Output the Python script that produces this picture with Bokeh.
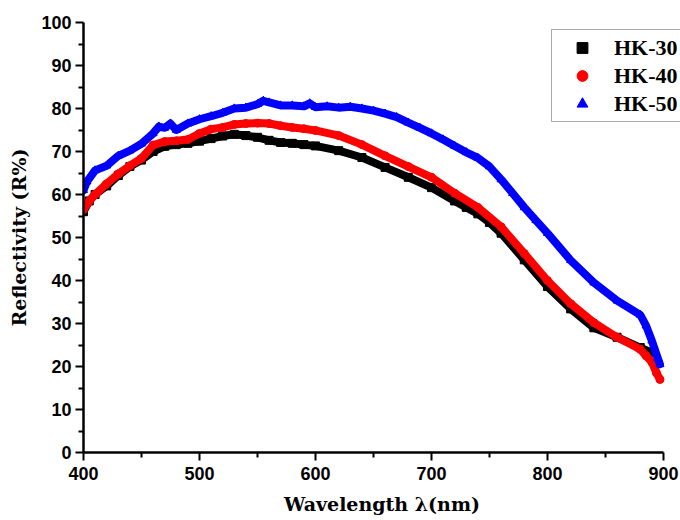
from bokeh.plotting import figure
from bokeh.models import Range1d, FixedTicker, Legend, LegendItem
from bokeh.embed import file_html
from bokeh.resources import INLINE

# ---- data ----
wl_30 = [400, 405, 410, 420, 430, 440, 450, 460, 470, 480, 490, 500, 510, 520, 530, 540, 550, 560,
         570, 580, 590, 600, 620, 640, 660, 680, 700, 720, 730, 740, 750, 760, 780, 800, 820, 840,
         860, 880, 890]
r_30 = [56.0, 58.5, 60.0, 62.0, 64.4, 66.5, 68.0, 70.0, 71.2, 71.6, 71.9, 72.4, 73.0, 73.6, 74.0, 73.7,
        73.3, 72.6, 72.1, 71.9, 71.6, 71.3, 70.2, 68.6, 66.3, 64.0, 61.6, 58.5, 57.0, 55.5, 53.5, 51.0,
        44.8, 38.6, 33.4, 29.0, 26.8, 24.4, 23.2]

wl_40 = [400, 405, 410, 420, 430, 440, 450, 460, 470, 480, 490, 500, 510, 520, 530, 540, 550, 560,
         570, 580, 590, 600, 620, 640, 660, 680, 700, 720, 740, 760, 780, 800, 820, 840, 860, 880,
         885, 890, 894, 897]
r_40 = [56.5, 58.5, 60.0, 62.5, 64.8, 66.7, 68.4, 71.5, 72.3, 72.5, 72.8, 74.2, 75.2, 75.6, 76.3, 76.5,
        76.6, 76.5, 76.0, 75.6, 75.3, 74.9, 73.7, 71.6, 69.0, 66.5, 64.0, 60.3, 57.0, 52.5, 46.3, 40.0,
        34.6, 30.2, 26.8, 24.0, 22.5, 21.0, 18.5, 17.0]

wl_50 = [400, 403, 410, 420, 430, 440, 450, 460, 465, 470, 475, 480, 490, 500, 510, 520, 530, 540,
         550, 555, 560, 570, 580, 590, 595, 600, 610, 620, 630, 640, 650, 660, 670, 680, 690, 700,
         710, 720, 730, 740, 750, 760, 770, 780, 790, 800, 820, 840, 860, 880, 885, 890, 895, 897]
r_50 = [61.0, 63.0, 65.6, 66.7, 69.0, 70.2, 71.8, 74.2, 75.8, 75.5, 76.5, 75.0, 76.5, 77.5, 78.2, 79.0,
        80.0, 80.2, 81.0, 81.8, 81.4, 80.7, 80.7, 80.5, 81.2, 80.3, 80.5, 80.2, 80.4, 80.0, 79.5, 78.8,
        78.0, 76.7, 75.5, 74.2, 72.8, 71.3, 69.8, 68.5, 66.5, 63.5, 60.3, 57.0, 54.0, 51.0, 44.7, 39.5,
        35.3, 32.0, 29.5, 26.0, 22.0, 20.5]

labels = ["HK-30", "HK-40", "HK-50"]
x_major = [400, 500, 600, 700, 800, 900]
x_minor = [450, 550, 650, 750, 850]
y_major = [0, 10, 20, 30, 40, 50, 60, 70, 80, 90, 100]
y_minor = [5, 15, 25, 35, 45, 55, 65, 75, 85, 95]

p = figure(width=680, height=520, x_range=Range1d(400, 914.7), y_range=Range1d(0, 100),
           output_backend="svg", toolbar_location=None,
           min_border_left=83, min_border_right=0, min_border_top=22, min_border_bottom=68)
p.outline_line_color = None
p.xgrid.grid_line_color = None
p.ygrid.grid_line_color = None
p.background_fill_color = "white"

series = [(wl_30, r_30, "black", "square"), (wl_40, r_40, "red", "circle"), (wl_50, r_50, "blue", "triangle")]
items = []
for (xs, ys, col, mk), lab in zip(series, labels):
    p.line(xs, ys, line_color=col, line_width=8, line_join="round", line_cap="round")
    r = p.scatter(xs, ys, marker=mk, size=8, fill_color=col, line_color=col)
    items.append(LegendItem(label=lab, renderers=[r]))

legend = Legend(items=items, location=(468, 330), padding=4, spacing=1, margin=0,
                glyph_width=52, glyph_height=27, label_height=27, label_standoff=6,
                label_text_font="Liberation Serif", label_text_font_style="bold",
                label_text_font_size="22px", label_text_color="black",
                border_line_color="#555555", border_line_width=1, background_fill_alpha=1.0)
p.add_layout(legend)

xa = p.xaxis[0]
ya = p.yaxis[0]
xa.ticker = FixedTicker(ticks=x_major, minor_ticks=x_minor)
ya.ticker = FixedTicker(ticks=y_major, minor_ticks=y_minor)
xa.bounds = (400, 900)
for ax in (xa, ya):
    ax.axis_line_width = 2.5
    ax.axis_line_color = "black"
    ax.major_tick_line_width = 2
    ax.minor_tick_line_width = 2
    ax.major_tick_line_color = "black"
    ax.minor_tick_line_color = "black"
    ax.major_tick_in = 0
    ax.major_tick_out = 8
    ax.minor_tick_in = 0
    ax.minor_tick_out = 5
    ax.major_label_text_font = "Liberation Sans"
    ax.major_label_text_font_style = "bold"
    ax.major_label_text_font_size = "18px"
    ax.major_label_text_color = "black"
    ax.axis_label_text_font = "DejaVu Serif"
    ax.axis_label_text_font_style = "bold"
    ax.axis_label_text_font_size = "19px"
    ax.axis_label_text_color = "black"

xa.axis_label = "Wavelength λ(nm)"
ya.axis_label = "Reflectivity (R%)"
xa.major_label_standoff = 6
xa.axis_label_standoff = 10
ya.major_label_standoff = 4
ya.axis_label_standoff = 8

open("out.html", "w").write(file_html(p, INLINE))
